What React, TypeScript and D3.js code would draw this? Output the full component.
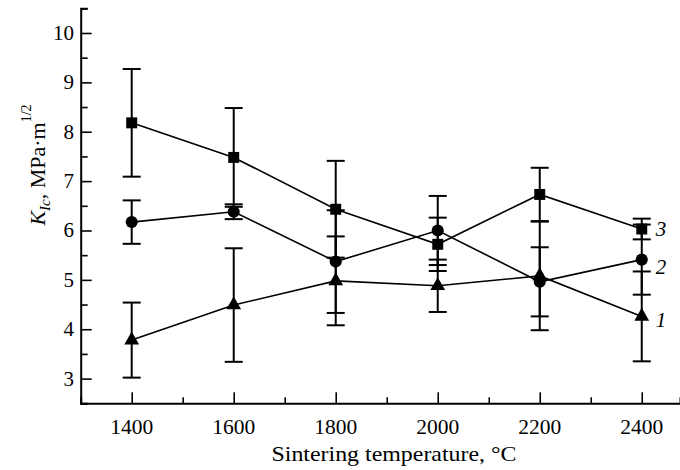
import React, { useEffect, useRef } from "react";
import * as d3 from "d3";

// sintering temperature, °C
const temps = [1400, 1600, 1800, 2000, 2200, 2400];

// series 1 (triangles), 2 (circles), 3 (squares): K_Ic and error half-width
const kic1 = [3.78, 4.49, 4.98, 4.88, 5.08, 4.26];
const err1 = [0.76, 1.15, 0.9, 0.53, 1.1, 0.91];
const kic2 = [6.17, 6.38, 5.37, 6.0, 4.96, 5.41];
const err2 = [0.44, 0.15, 1.04, 0.7, 0.7, 0.71];
const kic3 = [8.18, 7.48, 6.43, 5.72, 6.73, 6.03];
const err3 = [1.09, 1.0, 0.98, 0.54, 0.54, 0.21];

const xTicks = [1400, 1600, 1800, 2000, 2200, 2400];
const yTicks = [3, 4, 5, 6, 7, 8, 9, 10];
const seriesNames = ["1", "2", "3"];

const W = 680;
const H = 470;

const App = () => {
  const ref = useRef<SVGSVGElement>(null);

  useEffect(() => {
    document.body.style.margin = "0";
    const svg = d3.select(ref.current);
    svg.selectAll("*").remove();

    const x = d3.scaleLinear().domain([1300, 2475]).range([80.7, 680]);
    const y = d3.scaleLinear().domain([2.5, 10.5]).range([403.3, 8.3]);
    const font = "'Liberation Serif', 'Times New Roman', serif";

    const g = svg.append("g");

    // axes, ticks point inward
    const xAxis = d3
      .axisBottom(x)
      .tickValues(d3.range(1300, 2500, 100))
      .tickSize(-6)
      .tickFormat(() => "");
    const gx = g.append("g").attr("transform", `translate(0,${y(2.5)})`).call(xAxis);
    gx.selectAll(".tick line")
      .attr("y2", (d: any) => (xTicks.includes(d) ? -11 : -6));
    const yAxis = d3
      .axisLeft(y)
      .tickValues(d3.range(2.5, 10.51, 0.5))
      .tickSize(-7)
      .tickFormat(() => "");
    const gy = g.append("g").attr("transform", `translate(${x(1300)},0)`).call(yAxis);
    gy.selectAll(".tick line")
      .attr("x2", (d: any) => (Number.isInteger(d) ? 11 : 7));
    [gx, gy].forEach((a) => {
      a.select(".domain").attr("stroke", "#000").attr("stroke-width", 2);
      a.selectAll(".tick line").attr("stroke", "#000").attr("stroke-width", 1.6);
    });

    g.selectAll(".xl")
      .data(xTicks)
      .enter()
      .append("text")
      .attr("x", (d) => x(d))
      .attr("y", 434)
      .attr("text-anchor", "middle")
      .attr("textLength", 43)
      .attr("lengthAdjust", "spacingAndGlyphs")
      .style("font-family", font)
      .style("font-size", "20px")
      .text((d) => d);

    g.selectAll(".yl")
      .data(yTicks)
      .enter()
      .append("text")
      .attr("x", 74)
      .attr("y", (d) => y(d) + 7)
      .attr("text-anchor", "end")
      .style("font-family", font)
      .style("font-size", "21px")
      .text((d) => d);

    g.append("text")
      .attr("x", 394)
      .attr("y", 461)
      .attr("text-anchor", "middle")
      .attr("textLength", 245)
      .attr("lengthAdjust", "spacingAndGlyphs")
      .style("font-family", font)
      .style("font-size", "21px")
      .text("Sintering temperature, °C");

    const yl = g
      .append("text")
      .attr("transform", "translate(45,165) rotate(-90)")
      .attr("text-anchor", "middle")
      .style("font-family", font)
      .style("font-size", "22px");
    yl.append("tspan").style("font-style", "italic").text("K");
    yl.append("tspan").style("font-style", "italic").style("font-size", "15px").attr("dy", 5).text("Ic");
    yl.append("tspan").attr("dy", -5).text(", MPa·m");
    yl.append("tspan").style("font-size", "14px").attr("dy", -14).text("1/2");

    // series
    const series = [
      { v: kic1, e: err1, sym: d3.symbolTriangle, size: 95 },
      { v: kic2, e: err2, sym: d3.symbolCircle, size: 115 },
      { v: kic3, e: err3, sym: d3.symbolSquare, size: 120 },
    ];
    const line = d3
      .line<number>()
      .x((_, i) => x(temps[i]))
      .y((d) => y(d));

    series.forEach((s) => {
      g.append("path")
        .attr("d", line(s.v))
        .attr("fill", "none")
        .attr("stroke", "#000")
        .attr("stroke-width", 1.6);
    });

    series.forEach((s) => {
      s.v.forEach((v, i) => {
        const cx = x(temps[i]);
        const eb = g.append("g").attr("stroke", "#000").attr("stroke-width", 2);
        eb.append("line").attr("x1", cx).attr("x2", cx).attr("y1", y(v - s.e[i])).attr("y2", y(v + s.e[i]));
        [v - s.e[i], v + s.e[i]].forEach((c) =>
          eb.append("line").attr("x1", cx - 9).attr("x2", cx + 9).attr("y1", y(c)).attr("y2", y(c))
        );
      });
    });

    series.forEach((s) => {
      g.selectAll(null)
        .data(s.v)
        .enter()
        .append("path")
        .attr("d", d3.symbol().type(s.sym).size(s.size)())
        .attr("transform", (d, i) => `translate(${x(temps[i])},${y(d)})`)
        .attr("fill", "#000");
    });

    const labelDy = [11, 14, 7];
    series.forEach((s, k) => {
      g.append("text")
        .attr("x", x(2400) + 14)
        .attr("y", y(s.v[5]) + labelDy[k])
        .style("font-family", font)
        .style("font-style", "italic")
        .style("font-size", "21px")
        .text(seriesNames[k]);
    });
  }, []);

  return <svg ref={ref} width={W} height={H} style={{ display: "block", background: "#fff" }} />;
};

export default App;
